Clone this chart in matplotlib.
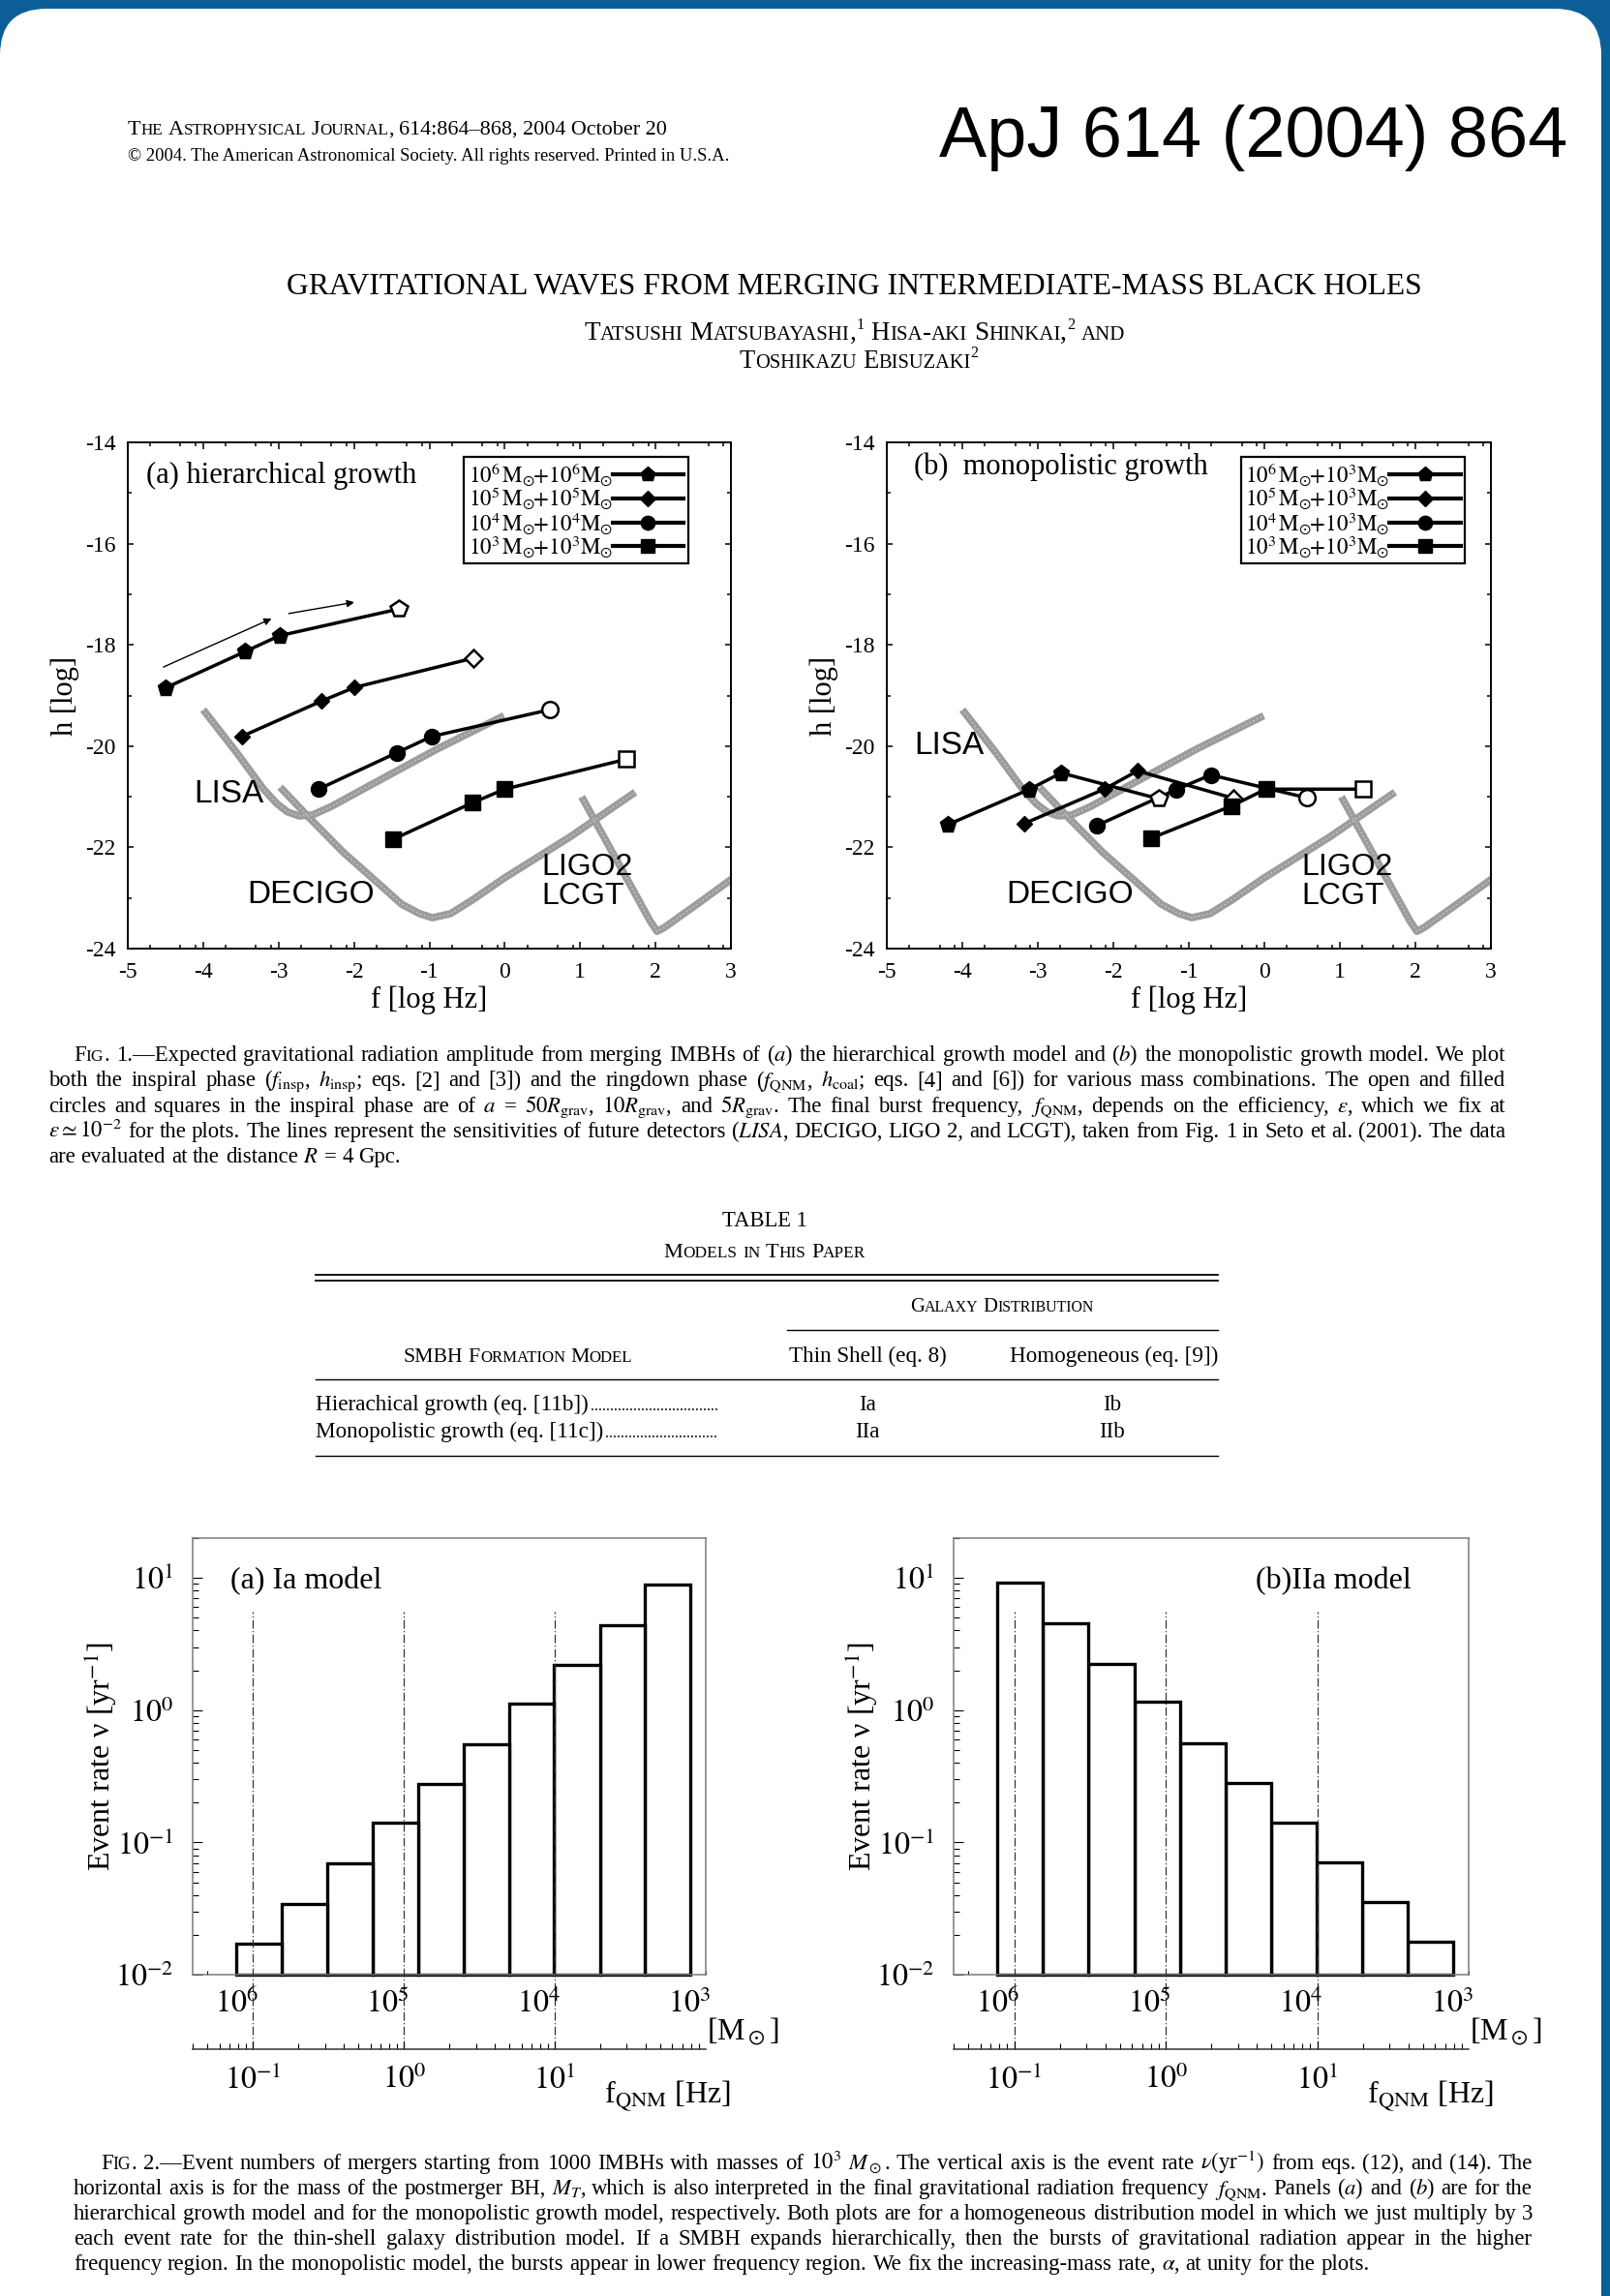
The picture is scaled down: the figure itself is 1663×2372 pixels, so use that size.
import numpy as np
import matplotlib
matplotlib.use('Agg')
import matplotlib.pyplot as plt
from matplotlib.lines import Line2D
from matplotlib.patches import FancyBboxPatch
from matplotlib.transforms import IdentityTransform
from matplotlib.ticker import LogLocator, NullFormatter

plt.rcParams['font.family'] = ['Liberation Serif', 'DejaVu Serif']
plt.rcParams['mathtext.fontset'] = 'stix'
plt.rcParams['axes.unicode_minus'] = False

W, H = 1663, 2372

# ---------------- Fig. 1 data: log f [Hz], log h ----------------
# three inspiral points + ringdown point (last one, open symbol)
a_f6 = [-4.50, -3.44, -2.99, -1.40]
a_h6 = [-18.85, -18.13, -17.82, -17.29]
a_f5 = [-3.49, -2.43, -1.99, -0.41]
a_h5 = [-19.81, -19.11, -18.84, -18.26]
a_f4 = [-2.47, -1.43, -0.97, 0.60]
a_h4 = [-20.85, -20.13, -19.81, -19.28]
a_f3 = [-1.48, -0.43, 0.00, 1.61]
a_h3 = [-21.84, -21.12, -20.85, -20.26]

b_f6 = [-4.19, -3.12, -2.69, -1.40]
b_h6 = [-21.55, -20.86, -20.53, -21.04]
b_f5 = [-3.18, -2.12, -1.68, -0.41]
b_h5 = [-21.53, -20.85, -20.49, -21.03]
b_f4 = [-2.22, -1.17, -0.71, 0.56]
b_h4 = [-21.57, -20.86, -20.57, -21.02]
b_f3 = [-1.50, -0.43, 0.02, 1.31]
b_h3 = [-21.82, -21.18, -20.85, -20.85]

labels_a = [r'$10^6\,\mathrm{M}_{\odot}\!\!+\!10^6\mathrm{M}_{\odot}$',
            r'$10^5\,\mathrm{M}_{\odot}\!\!+\!10^5\mathrm{M}_{\odot}$',
            r'$10^4\,\mathrm{M}_{\odot}\!\!+\!10^4\mathrm{M}_{\odot}$',
            r'$10^3\,\mathrm{M}_{\odot}\!\!+\!10^3\mathrm{M}_{\odot}$']
labels_b = [r'$10^6\,\mathrm{M}_{\odot}\!\!+\!10^3\mathrm{M}_{\odot}$',
            r'$10^5\,\mathrm{M}_{\odot}\!\!+\!10^3\mathrm{M}_{\odot}$',
            r'$10^4\,\mathrm{M}_{\odot}\!\!+\!10^3\mathrm{M}_{\odot}$',
            r'$10^3\,\mathrm{M}_{\odot}\!\!+\!10^3\mathrm{M}_{\odot}$']

# detector sensitivity curves (Seto et al. 2001)
lisa_f = [-4.00, -3.55, -3.20, -3.02, -2.88, -2.73, -2.55, -2.31, -1.78, -0.90, -0.01]
lisa_h = [-19.28, -20.14, -20.85, -21.14, -21.30, -21.38, -21.36, -21.20, -20.77, -20.06, -19.40]
decigo_f = [-2.98, -2.61, -2.14, -1.67, -1.37, -1.13, -0.96, -0.72, -0.43, -0.01, 0.87, 1.73]
decigo_h = [-20.81, -21.39, -22.10, -22.72, -23.12, -23.31, -23.39, -23.31, -23.04, -22.61, -21.79, -20.91]
ligo_f = [1.02, 1.55, 1.93, 2.02, 2.12, 2.60, 3.20]
ligo_h = [-21.00, -22.43, -23.46, -23.66, -23.58, -23.07, -22.42]

arrows_a = [((-4.56, -18.46), (-3.06, -17.46)), ((-2.90, -17.39), (-1.96, -17.15))]

# ---------------- Fig. 2 data: event rate per mass bin ----------------
mass_edges = [1.26e3, 2.52e3, 5.04e3, 1.01e4, 2.02e4, 4.03e4, 8.06e4, 1.61e5, 3.23e5, 6.45e5, 1.29e6]
rate_a = [8.9, 4.42, 2.21, 1.12, 0.555, 0.277, 0.140, 0.0695, 0.0345, 0.0172]
rate_b = [0.0176, 0.0352, 0.0705, 0.142, 0.281, 0.566, 1.15, 2.25, 4.54, 9.22]
mass_ticks = [1e6, 1e5, 1e4, 1e3]
mass_ticklabels = [r'$10^6$', r'$10^5$', r'$10^4$', r'$10^3$']
freq_ticks = [0.1, 1, 10]
freq_ticklabels = [r'$10^{-1}$', r'$10^{0}$', r'$10^{1}$']
rate_ticks = [1e-2, 1e-1, 1, 10]
rate_ticklabels = [r'$10^{-2}$', r'$10^{-1}$', r'$10^{0}$', r'$10^{1}$']

# ---------------- page text ----------------
title = 'GRAVITATIONAL WAVES FROM MERGING INTERMEDIATE-MASS BLACK HOLES'
cap1 = [
    'Fig. 1.—Expected gravitational radiation amplitude from merging IMBHs of ($a$) the hierarchical growth model and ($b$) the monopolistic growth model. We plot',
    r'both the inspiral phase ($f_\mathrm{insp}$, $h_\mathrm{insp}$; eqs. [2] and [3]) and the ringdown phase ($f_\mathrm{QNM}$, $h_\mathrm{coal}$; eqs. [4] and [6]) for various mass combinations. The open and filled',
    r'circles and squares in the inspiral phase are of $a$ = $50R_\mathrm{grav}$, $10R_\mathrm{grav}$, and $5R_\mathrm{grav}$. The final burst frequency, $f_\mathrm{QNM}$, depends on the efficiency, $\epsilon$, which we fix at',
    r'$\epsilon\simeq10^{-2}$ for the plots. The lines represent the sensitivities of future detectors ($\mathit{LISA}$, DECIGO, LIGO 2, and LCGT), taken from Fig. 1 in Seto et al. (2001). The data',
    r'are evaluated at the distance $R$ = 4 Gpc.',
]
cap2 = [
    r'Fig. 2.—Event numbers of mergers starting from 1000 IMBHs with masses of $10^3$ $M_\odot$. The vertical axis is the event rate $\nu(\mathrm{yr}^{-1})$ from eqs. (12), and (14). The',
    r'horizontal axis is for the mass of the postmerger BH, $M_T$, which is also interpreted in the final gravitational radiation frequency $f_\mathrm{QNM}$. Panels ($a$) and ($b$) are for the',
    'hierarchical growth model and for the monopolistic growth model, respectively. Both plots are for a homogeneous distribution model in which we just multiply by 3',
    'each event rate for the thin-shell galaxy distribution model. If a SMBH expands hierarchically, then the bursts of gravitational radiation appear in the higher',
    r'frequency region. In the monopolistic model, the bursts appear in lower frequency region. We fix the increasing-mass rate, $\alpha$, at unity for the plots.',
]
table_rows = [('Hierachical growth (eq. [11b])', 'Ia', 'Ib'),
              ('Monopolistic growth (eq. [11c])', 'IIa', 'IIb')]

# ---------------- figure / page ----------------
fig = plt.figure(figsize=(W / 100, H / 100), dpi=100)
fig.patch.set_facecolor('#0b5f96')
page = FancyBboxPatch((0, -300), 1654, H - 9 + 300, boxstyle='round,pad=0,rounding_size=48',
                      transform=IdentityTransform(), facecolor='white', edgecolor='none', zorder=-5)
fig.add_artist(page)

R = fig.canvas.get_renderer()


def width_of(s, size, **kw):
    t = fig.text(0, 0, s, fontsize=size, **kw)
    w = t.get_window_extent(renderer=R).width
    t.remove()
    return w


def space_of(size, **kw):
    return width_of('x x', size, **kw) - width_of('xx', size, **kw)


def measure(tokens, **kw):
    return [space_of(sz, **kw) if s == ' ' else width_of(s, sz, **kw) for s, sz, dy in tokens]


def place(tokens, x, y, ha='left', width=None, **kw):
    # tokens: (text, size, raise_px); x, y in page pixels, y = baseline
    if width is not None:
        k = width / sum(measure(tokens, **kw))
        tokens = [(s, sz * k, dy * k) for s, sz, dy in tokens]
    ws = measure(tokens, **kw)
    x0 = {'left': x, 'center': x - sum(ws) / 2, 'right': x - sum(ws)}[ha]
    for (s, sz, dy), w in zip(tokens, ws):
        if s != ' ':
            fig.text(x0 / W, 1 - (y - dy) / H, s, fontsize=sz, va='baseline', ha='left', **kw)
        x0 += w
    return x0


def smallcaps(text, size, k=0.77):
    toks = []
    for i, word in enumerate(text.split(' ')):
        if i:
            toks.append((' ', size, 0))
        cur, cs = '', None
        for ch in word:
            s = size * k if ch.islower() else size
            if cur and s != cs:
                toks.append((cur, cs, 0))
                cur = ''
            cur += ch.upper()
            cs = s
        toks.append((cur, cs, 0))
    return toks


def paragraph(lines, x_left, x_right, y0, step, indent):
    def words(line, size, first):
        out = []
        for j, w in enumerate(line.split(' ')):
            out.append(smallcaps(w, size) if (first and j == 0) else [(w, size, 0)])
        return out
    ratios = []
    for i, line in enumerate(lines[:-1]):
        ws = words(line, 10, i == 0)
        nat = sum(sum(measure(t)) for t in ws) + (len(ws) - 1) * space_of(10)
        ratios.append((x_right - x_left - (indent if i == 0 else 0)) / nat)
    size = 10 * min(ratios) * 0.995
    sp = space_of(size)
    for i, line in enumerate(lines):
        ws = words(line, size, i == 0)
        wl = [sum(measure(t)) for t in ws]
        x = x_left + (indent if i == 0 else 0)
        gap = (x_right - x - sum(wl)) / (len(ws) - 1) if i < len(lines) - 1 else sp
        for t, w in zip(ws, wl):
            place(t, x, y0 + i * step)
            x += w + gap


def hline(x0, x1, y, lw=1.0):
    fig.add_artist(Line2D([x0 / W, x1 / W], [1 - y / H, 1 - y / H], lw=lw, color='black',
                          transform=fig.transFigure))


def add_ax(x0, y0, x1, y1):
    return fig.add_axes([x0 / W, 1 - y1 / H, (x1 - x0) / W, (y1 - y0) / H])


# ---------------- header ----------------
s = 13
place(smallcaps('The Astrophysical Journal,', s) + [(' ', s, 0), ('614:864–868, 2004 October 20', s, 0)],
      132, 139, width=556)
place([('© 2004. The American Astronomical Society. All rights reserved. Printed in U.S.A.', 11, 0)],
      132, 166, width=620)
place([('ApJ 614 (2004) 864', 50, 0)], 970, 162, width=649, family='Liberation Sans')
place([(title, 20, 0)], 882, 304, ha='center', width=1173)
s = 16
place(smallcaps('Tatsushi Matsubayashi,', s) + [('1', s * 0.6, 9), (' ', s, 0)]
      + smallcaps('Hisa-aki Shinkai,', s) + [('2', s * 0.6, 9), (' ', s, 0)] + smallcaps('and', s),
      883, 351, ha='center', width=558)
place(smallcaps('Toshikazu Ebisuzaki', s) + [('2', s * 0.6, 9)], 887, 380, ha='center', width=247)


# ---------------- Fig. 1 panels ----------------
def gw_panel(ax, fs, hs, labels, leg_x, title_txt, title_xy, lisa_xy):
    for cf, ch in ((lisa_f, lisa_h), (decigo_f, decigo_h), (ligo_f, ligo_h)):
        ax.plot(cf, ch, color='#9c9c9c', lw=5.5, solid_capstyle='butt', zorder=1)
        ax.plot(cf, ch, color='white', lw=1.0, ls=(0, (1, 2)), alpha=0.5, zorder=1.1)
    handles = []
    for f, h, m, ms, lab in zip(fs, hs, 'pDos', (12.5, 8.5, 11.5, 11.5), labels):
        ax.plot(f, h, color='black', lw=2.5, zorder=3)
        ax.plot(f[:-1], h[:-1], ls='none', marker=m, ms=ms, color='black', zorder=4)
        ax.plot(f[-1:], h[-1:], ls='none', marker=m, ms=ms + 0.5, mfc='white', mec='black',
                mew=1.8, zorder=4)
        handles.append(Line2D([], [], color='black', lw=3, marker=m, ms=ms * 0.9, label=lab))
    leg = ax.legend(handles=handles, loc='upper left', bbox_to_anchor=(leg_x, 0.972),
                    markerfirst=False, fontsize=16.5, handlelength=3.2, handletextpad=0.0,
                    labelspacing=-0.12, borderpad=0.2, borderaxespad=0, fancybox=False,
                    edgecolor='black', framealpha=1)
    leg.get_frame().set_linewidth(1.6)
    ax.text(title_xy[0], title_xy[1], title_txt, fontsize=22, va='center')
    ax.text(lisa_xy[0], lisa_xy[1], 'LISA', fontsize=24, va='center', family='Liberation Sans')
    ax.text(-3.42, -22.93, 'DECIGO', fontsize=24, va='center', family='Liberation Sans')
    ax.text(0.49, -22.40, 'LIGO2', fontsize=23, va='center', family='Liberation Sans')
    ax.text(0.49, -22.97, 'LCGT', fontsize=23, va='center', family='Liberation Sans')
    ax.set_xlim(-5, 3)
    ax.set_ylim(-24, -14)
    ax.set_xticks(range(-5, 4))
    ax.set_xticks([k + d for k in range(-5, 3) for d in (0.301, 0.699, 0.903)], minor=True)
    ax.set_yticks(range(-24, -13, 2))
    ax.set_yticks(range(-23, -14, 2), minor=True)
    ax.tick_params(which='both', direction='in', top=True, right=True, width=1.1, labelsize=17)
    ax.tick_params(axis='x', which='major', length=5, pad=10)
    ax.tick_params(axis='y', which='major', length=4, pad=9)
    ax.tick_params(which='minor', length=3)
    for sp in ax.spines.values():
        sp.set_linewidth(1.4)
    ax.set_xlabel('f [log Hz]', fontsize=22)
    ax.set_ylabel('h [log]', fontsize=22)
    ax.xaxis.set_label_coords(0.5, -0.073)
    ax.yaxis.set_label_coords(-0.080, 0.5)


ax1 = add_ax(132, 457, 755, 980)
gw_panel(ax1, [a_f6, a_f5, a_f4, a_f3], [a_h6, a_h5, a_h4, a_h3], labels_a, 0.557,
         '(a) hierarchical growth', (-4.76, -14.65), (-4.12, -20.95))
for start, end in arrows_a:
    ax1.annotate('', xy=end, xytext=start,
                 arrowprops=dict(arrowstyle='-|>', lw=1.0, color='black', mutation_scale=11))

ax2 = add_ax(916, 457, 1540, 980)
gw_panel(ax2, [b_f6, b_f5, b_f4, b_f3], [b_h6, b_h5, b_h4, b_h3], labels_b, 0.586,
         '(b)  monopolistic growth', (-4.64, -14.48), (-4.64, -19.99))

paragraph(cap1, 50, 1555, 1096, 26.3, 26)

# ---------------- Table 1 ----------------
place([('TABLE 1', 14, 0)], 790, 1267, ha='center', width=89)
place(smallcaps('Models in This Paper', 14), 790, 1299, ha='center', width=210)
hline(326, 1258, 1317, 1.3)
hline(326, 1258, 1323, 1.3)
place(smallcaps('Galaxy Distribution', 14), 1035, 1355, ha='center', width=191)
hline(813, 1258, 1374)
place(smallcaps('SMBH Formation Model', 14), 535, 1407, ha='center', width=238)
ts = 16 * 282 / width_of(table_rows[0][0], 16)
place([('Thin Shell (eq. 8)', ts, 0)], 896, 1407, ha='center')
place([('Homogeneous (eq. [9])', ts, 0)], 1151, 1407, ha='center')
hline(326, 1258, 1425)
dot_w = width_of('. ', ts * 0.7) + space_of(ts * 0.7) * 0.3
for i, (name, c1, c2) in enumerate(table_rows):
    yb = 1457 + 28 * i
    xe = place([(name, ts, 0)], 326, yb)
    n = int((742 - xe) / width_of('..........', ts * 0.7) * 10)
    place([('.' * n, ts * 0.7, 0)], xe + 2, yb)
    place([(c1, ts, 0)], 896, yb, ha='center')
    place([(c2, ts, 0)], 1149, yb, ha='center')
hline(326, 1258, 1504)


# ---------------- Fig. 2 panels ----------------
def hist_panel(x0, x1, rates, label_txt, label_x):
    ax = add_ax(x0, 1589, x1, 2040)
    ax.set_xscale('log')
    ax.set_yscale('log')
    ax.set_xlim(10 ** 6.4, 1e3)
    ax.set_ylim(1e-2, 20)
    left = np.array(mass_edges[:-1])
    ax.bar(left, np.array(rates) - 1e-2, width=np.diff(mass_edges), align='edge', bottom=1e-2,
           color='white', edgecolor='black', lw=2.4, clip_on=False, zorder=2)
    # dash-dot guides reach down to the frequency axis
    px_dec = 451 / np.log10(20 / 1e-2)
    y_low = 10 ** (-2 - (2117 - 2040) / px_dec)
    for m in mass_ticks[:3]:
        ax.plot([m, m], [y_low, 5.6], ls=(0, (7, 2, 1, 2)), lw=0.9, color='#333333',
                clip_on=False, zorder=3)
    ax.set_yticks(rate_ticks, labels=rate_ticklabels)
    ax.yaxis.set_minor_locator(LogLocator(subs=(2, 3, 4, 5, 6, 7, 8, 9), numticks=20))
    ax.yaxis.set_minor_formatter(NullFormatter())
    ax.set_xticks(mass_ticks, labels=[''] * 4)
    ax.xaxis.set_minor_locator(LogLocator(subs=(2, 3, 4, 5, 6, 7, 8, 9), numticks=20))
    ax.xaxis.set_minor_formatter(NullFormatter())
    ax.tick_params(axis='y', which='both', direction='in', labelsize=23, pad=14, width=0.8)
    ax.tick_params(axis='y', which='major', length=7)
    ax.tick_params(axis='y', which='minor', length=4)
    ax.tick_params(axis='x', which='both', direction='in', length=3, width=0.8)
    for sp in ax.spines.values():
        sp.set_color('#7a7a7a')
        sp.set_linewidth(1.1)
    for m, lab in zip(mass_ticks, mass_ticklabels):
        ax.annotate(lab, xy=(m, 0), xycoords=('data', 'axes fraction'), xytext=(4, -22),
                    textcoords='offset points', ha='right', va='center', fontsize=23,
                    annotation_clip=False)
    ax.set_ylabel(r'Event rate ν [yr$^{-1}$]', fontsize=23)
    ax.yaxis.set_label_coords(-0.143, 0.5)
    ax.text(label_x, 0.902, label_txt, transform=ax.transAxes, fontsize=23, va='center')

    axf = add_ax(x0, 2117, x1, 2117.01)
    axf.set_xscale('log')
    axf.set_xlim(1e5 / 10 ** 6.4, 1e5 / 1e3)
    axf.patch.set_visible(False)
    for k in ('top', 'left', 'right'):
        axf.spines[k].set_visible(False)
    axf.spines['bottom'].set_linewidth(1.1)
    axf.spines['bottom'].set_color('#333333')
    axf.set_yticks([])
    axf.set_xticks(freq_ticks, labels=freq_ticklabels)
    axf.xaxis.set_minor_locator(LogLocator(subs=(2, 3, 4, 5, 6, 7, 8, 9), numticks=20))
    axf.xaxis.set_minor_formatter(NullFormatter())
    axf.tick_params(axis='x', which='both', direction='in', labelsize=23, pad=12, width=0.8)
    axf.tick_params(axis='x', which='major', length=6)
    axf.tick_params(axis='x', which='minor', length=4)
    fig.text((x1 + 1) / W, 1 - 2099 / H, r'[M$_\odot$]', fontsize=23, va='center')
    fig.text((x1 - 105) / W, 1 - 2166 / H, r'f$_\mathrm{QNM}$ [Hz]', fontsize=23, va='center')
    return ax


hist_panel(199, 729, rate_a, '(a) Ia model', 0.074)
hist_panel(985, 1517, rate_b, '(b)IIa model', 0.586)

paragraph(cap2, 76, 1583, 2241, 26.0, 28)

fig.savefig('out.png', dpi=100)
